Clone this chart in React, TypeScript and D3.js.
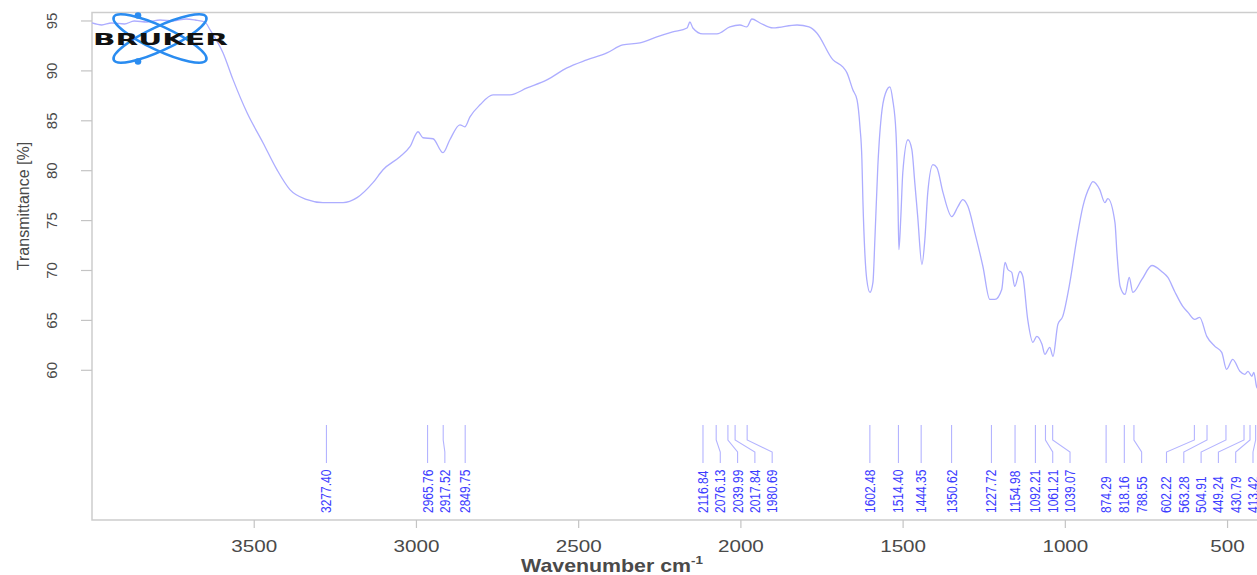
import { useEffect, useRef } from 'react'
import * as d3 from 'd3'

// spectrum (cm-1, %T)
const wavenumbers = [
  4000, 3970, 3940, 3900, 3870, 3830, 3790, 3750, 3710, 3682, 3652, 3636, 3596, 3565, 3522, 3473,
  3430, 3390, 3337, 3288, 3226, 3183, 3134, 3103, 3051, 3020, 2995, 2980, 2949, 2918, 2897, 2866,
  2851, 2835, 2804, 2764, 2712, 2659, 2598, 2536, 2475, 2413, 2364, 2311, 2259, 2210, 2166, 2157,
  2148, 2117, 2074, 2034, 2003, 1982, 1966, 1941, 1901, 1827, 1790, 1766, 1716, 1686, 1673, 1655,
  1642, 1633, 1627, 1624, 1618, 1612, 1602, 1593, 1587, 1578, 1565, 1550, 1541, 1532, 1522, 1516,
  1513, 1507, 1501, 1485, 1473, 1464, 1455, 1442, 1433, 1424, 1408, 1396, 1377, 1350, 1331, 1316,
  1300, 1279, 1254, 1233, 1217, 1196, 1186, 1177, 1165, 1156, 1140, 1131, 1116, 1100, 1088, 1072,
  1063, 1048, 1038, 1023, 1008, 986, 965, 946, 925, 915, 894, 878, 869, 847, 841, 831,
  816, 803, 792, 764, 733, 703, 684, 663, 638, 622, 601, 586, 564, 539, 518, 503,
  484, 462, 447, 437, 425, 419, 410, 400,
]
const transmittance = [
  94.8, 94.6, 94.8, 94.7, 95.0, 94.9, 95.1, 95.0, 95.2, 95.1, 94.9, 94.1, 91.8, 89.1, 85.8, 82.8,
  80.1, 78.1, 77.1, 76.8, 76.8, 77.3, 78.8, 80.1, 81.4, 82.4, 83.9, 83.3, 83.2, 81.8, 83.1, 84.6,
  84.4, 85.4, 86.6, 87.6, 87.6, 88.3, 89.1, 90.3, 91.1, 91.8, 92.6, 92.8, 93.4, 93.9, 94.3, 94.9,
  94.3, 93.7, 93.7, 94.4, 94.6, 94.4, 95.2, 94.8, 94.3, 94.6, 94.4, 93.8, 91.1, 90.4, 89.8, 88.1,
  87.1, 84.4, 81.1, 77.1, 71.8, 69.1, 67.8, 68.8, 73.1, 80.4, 86.1, 88.1, 88.4, 87.1, 83.8, 77.1,
  72.1, 75.4, 79.8, 83.1, 82.1, 78.8, 75.4, 70.6, 73.1, 77.8, 80.6, 80.3, 77.8, 75.4, 76.4, 77.1,
  76.4, 73.8, 70.4, 67.1, 67.1, 68.1, 70.8, 70.1, 69.8, 68.4, 69.9, 69.4, 65.1, 62.8, 63.4, 62.6,
  61.6, 62.3, 61.4, 64.6, 65.4, 68.8, 73.1, 76.4, 78.4, 78.9, 78.1, 76.8, 77.2, 74.8, 71.8, 68.4,
  67.6, 69.3, 67.8, 69.1, 70.5, 69.9, 69.3, 67.9, 66.4, 65.8, 65.1, 65.3, 63.4, 62.4, 61.8, 60.1,
  61.1, 59.9, 59.6, 59.9, 59.4, 59.8, 58.3, 58.0,
]
const peakPositions = [
  3277.40, 2965.76, 2917.52, 2849.75, 2116.84, 2076.13, 2039.99, 2017.84, 1980.69, 1602.48,
  1514.40, 1444.35, 1350.62, 1227.72, 1154.98, 1092.21, 1061.21, 1039.07, 874.29, 818.16,
  788.55, 602.22, 563.28, 504.91, 449.24, 430.79, 413.42,
]
const xTicks = [3500, 3000, 2500, 2000, 1500, 1000, 500]
const yTicks = [60, 65, 70, 75, 80, 85, 90, 95]

const W = 1257
const H = 575
const FONT = 'Arial, "Liberation Sans", sans-serif'

export default function App() {
  const ref = useRef<SVGSVGElement>(null)

  useEffect(() => {
    if (!ref.current) return
    const svg = d3.select(ref.current)
    svg.selectAll('*').remove()

    const x = d3.scaleLinear().domain([4000, 400]).range([92, 1260])
    const y = d3.scaleLinear().domain([45, 95.85]).range([520, 12.5])
    const [bottom, top] = y.range()
    const left = x(4000)

    // frame
    svg.append('path')
      .attr('d', `M${W + 5},${top}H${left}V${bottom}H${W + 5}`)
      .attr('fill', 'none')
      .attr('stroke', '#cdcdcd')
      .attr('stroke-width', 1.5)

    // y axis
    const gy = svg.append('g')
    gy.selectAll('line').data(yTicks).join('line')
      .attr('x1', left - 11).attr('x2', left)
      .attr('y1', d => y(d)).attr('y2', d => y(d))
      .attr('stroke', '#c4c4c4').attr('stroke-width', 1.2)
    gy.selectAll('text').data(yTicks).join('text')
      .attr('transform', d => `translate(57,${y(d)}) rotate(-90)`)
      .attr('text-anchor', 'middle')
      .attr('font-family', FONT)
      .attr('font-size', 15)
      .attr('fill', '#4a4a4a')
      .text(d => d)
    svg.append('text')
      .attr('transform', 'translate(29,206) rotate(-90)')
      .attr('text-anchor', 'middle')
      .attr('font-family', FONT)
      .attr('font-size', 16)
      .attr('fill', '#4a4a4a')
      .text('Transmittance [%]')

    // x axis
    const gx = svg.append('g')
    gx.selectAll('line').data(xTicks).join('line')
      .attr('x1', d => x(d)).attr('x2', d => x(d))
      .attr('y1', bottom).attr('y2', bottom + 8)
      .attr('stroke', '#c4c4c4').attr('stroke-width', 1.2)
    gx.selectAll('text').data(xTicks).join('text')
      .attr('transform', d => `translate(${x(d)},552) scale(1.25,1)`)
      .attr('text-anchor', 'middle')
      .attr('font-family', FONT)
      .attr('font-size', 16.5)
      .attr('fill', '#4a4a4a')
      .text(d => d)
    const title = svg.append('text')
      .attr('transform', 'translate(612,572) scale(1.22,1)')
      .attr('text-anchor', 'middle')
      .attr('font-family', FONT)
      .attr('font-size', 17.5)
      .attr('font-weight', 'bold')
      .attr('fill', '#4a4a4a')
    title.append('tspan').text('Wavenumber cm')
    title.append('tspan').attr('dy', -8).attr('font-size', 11).text('-1')

    // spectrum
    const pts = wavenumbers.map((w, i) => [w, transmittance[i]] as [number, number])
    const line = d3.line<[number, number]>()
      .x(d => x(d[0]))
      .y(d => y(d[1]))
      .curve(d3.curveMonotoneX)
    svg.append('path')
      .datum(pts)
      .attr('d', line)
      .attr('fill', 'none')
      .attr('stroke', '#adadff')
      .attr('stroke-width', 1.3)

    // peak labels, spread apart so they don't collide
    const gap = 17.3
    const px = peakPositions.map(p => x(p)).sort((a, b) => a - b)
    const labels = [...peakPositions].sort((a, b) => b - a)
    const lx = px.slice()
    for (let i = 1; i < lx.length; i++) lx[i] = Math.max(lx[i], lx[i - 1] + gap)
    lx[lx.length - 1] = Math.min(lx[lx.length - 1], W - 4)
    for (let i = lx.length - 2; i >= 0; i--) lx[i] = Math.min(lx[i], lx[i + 1] - gap)

    const gp = svg.append('g')
    labels.forEach((p, i) => {
      gp.append('path')
        .attr('d', `M${px[i]},425V440L${lx[i]},452V463`)
        .attr('fill', 'none')
        .attr('stroke', '#b4b4ff')
        .attr('stroke-width', 1.1)
      gp.append('text')
        .attr('transform', `translate(${lx[i]},513) scale(1.15,1) rotate(-90)`)
        .attr('dy', '0.36em')
        .attr('font-family', FONT)
        .attr('font-size', 12)
        .attr('fill', '#3c3cff')
        .text(p.toFixed(2))
    })

    // BRUKER logo
    const logo = svg.append('g').attr('transform', 'translate(160,38.5)')
    ;[-25, 25].forEach(a => {
      logo.append('ellipse')
        .attr('rx', 51).attr('ry', 12)
        .attr('transform', `rotate(${a})`)
        .attr('fill', 'none')
        .attr('stroke', '#2a8cf0')
        .attr('stroke-width', 2.6)
    })
    ;[-23, 23].forEach(dy => {
      logo.append('circle').attr('cx', -22).attr('cy', dy).attr('r', 3.3).attr('fill', '#2a8cf0')
    })
    logo.append('text')
      .attr('x', -67).attr('y', 6.5)
      .attr('textLength', 135)
      .attr('lengthAdjust', 'spacingAndGlyphs')
      .attr('font-family', '"DejaVu Sans", Arial, sans-serif')
      .attr('font-size', 16.5)
      .attr('font-weight', 900)
      .attr('fill', '#111')
      .text('BRUKER')
  }, [])

  return (
    <svg
      ref={ref}
      width={W}
      height={H}
      style={{ position: 'absolute', left: 0, top: 0, display: 'block', background: '#fff' }}
    />
  )
}
